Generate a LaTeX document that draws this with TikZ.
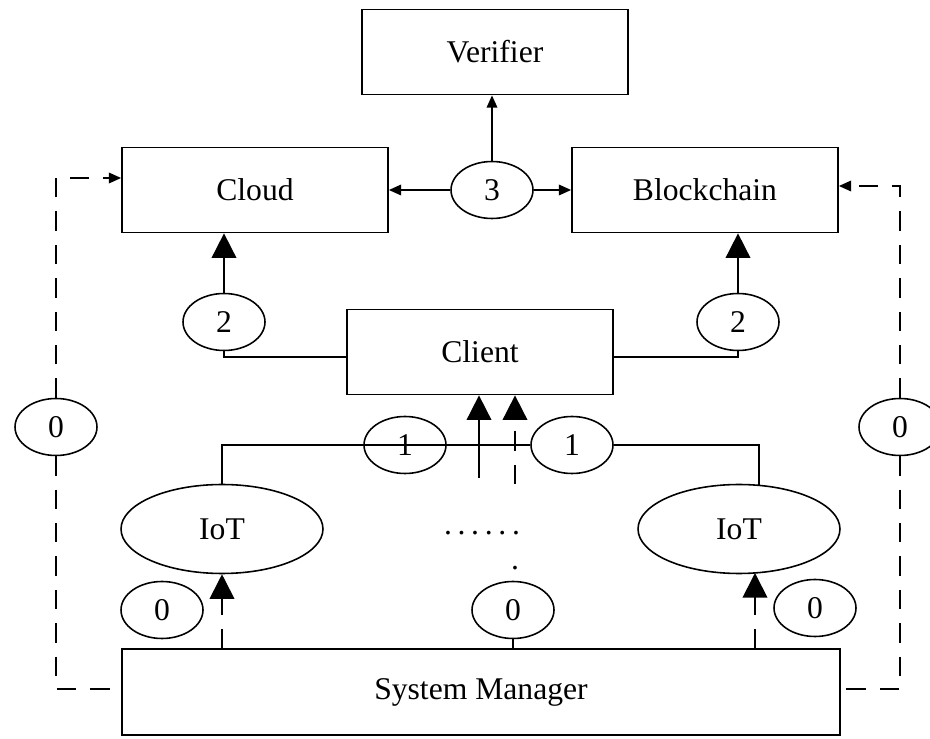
\documentclass[tikz,border=0pt]{standalone}
\usepackage{fontspec}
\setmainfont{Liberation Serif}
\usetikzlibrary{shapes.geometric,arrows.meta,calc}
\begin{document}
\begin{tikzpicture}[x=0.02cm,y=-0.02cm,
  every node/.style={font=\fontsize{18}{21}\selectfont},
  box/.style={draw,line width=1pt,minimum width=5.32cm,minimum height=1.7cm,inner sep=0pt},
  oval/.style={draw,ellipse,line width=0.9pt,minimum width=1.64cm,minimum height=1.14cm,inner sep=0pt},
  iot/.style={draw,ellipse,line width=0.9pt,minimum width=4.04cm,minimum height=1.78cm,inner sep=0pt},
  conn/.style={line width=1pt},
  sarrow/.style={conn,-{Triangle[length=7pt,width=6pt]}},
  barrow/.style={conn,-{Triangle[length=14pt,width=14pt]}},
  dsh/.style={dash pattern=on 11pt off 8pt}
]
\useasboundingbox (0,0) rectangle (930,739);
\node[box] (ver) at (495,52) {Verifier};
\node[box] (cloud) at (255,190) {Cloud};
\node[box] (bc) at (705,190) {Blockchain};
\node[oval] (o3) at (492,190) {3};
\node[box] (client) at (480,352) {Client};
\node[oval] (c2l) at (224,322) {2};
\node[oval] (c2r) at (738,322) {2};
\node[oval] (o0l) at (56,427) {0};
\node[oval] (o0r) at (900,427) {0};
\node[oval] (o1l) at (405,445) {1};
\node[oval] (o1r) at (572,445) {1};
\node[iot] (iotl) at (222,529) {IoT};
\node[iot] (iotr) at (739,529) {IoT};
\node (dots) at (482,533) {\addfontfeature{LetterSpace=18}......};
\node (dot) at (515,568) {.};
\node[oval] (o0c) at (513,610) {0};
\node[oval] (o0bl) at (162,610) {0};
\node[oval] (o0br) at (815,608) {0};
\node[draw,line width=1pt,minimum width=14.36cm,minimum height=1.72cm,inner sep=0pt] (sm) at (481,692) {System Manager};

\draw[sarrow] (o3.north) -- (o3.north |- ver.south);
\draw[sarrow] (o3.west) -- (cloud.east);
\draw[sarrow] (o3.east) -- (bc.west);
\draw[conn] (c2l.south) |- ($(client.west)+(0,5)$);
\draw[barrow] (c2l.north) -- (c2l.north |- cloud.south);
\draw[conn] (c2r.south) |- ($(client.east)+(0,5)$);
\draw[barrow] (c2r.north) -- (c2r.north |- bc.south);
\draw[sarrow,dsh] (o0l.north) |- ($(cloud.west)+(0,-12)$);
\draw[conn,dsh] (o0l.south) |- ($(sm.west)+(0,-3)$);
\draw[sarrow,dsh] (o0r.north) |- ($(bc.east)+(0,-4)$);
\draw[conn,dsh] (o0r.south) |- ($(sm.east)+(0,-3)$);
\draw[conn] (iotl.north) |- (o1r.west);
\coordinate (ir) at (759,486);
\draw[conn] (o1r.east) -| (ir);
\coordinate (a1) at (479,478);
\coordinate (a2) at (515,484);
\draw[barrow] (a1) -- (a1 |- client.south);
\draw[barrow,dsh] (a2) -- (a2 |- client.south);
\draw[conn] (o0c.south) -- (o0c.south |- sm.north);
\draw[barrow,dsh] (iotl.south |- sm.north) -- (iotl.south);
\coordinate (ib) at (755,573);
\draw[barrow,dsh] (ib |- sm.north) -- (ib);
\end{tikzpicture}
\end{document}
